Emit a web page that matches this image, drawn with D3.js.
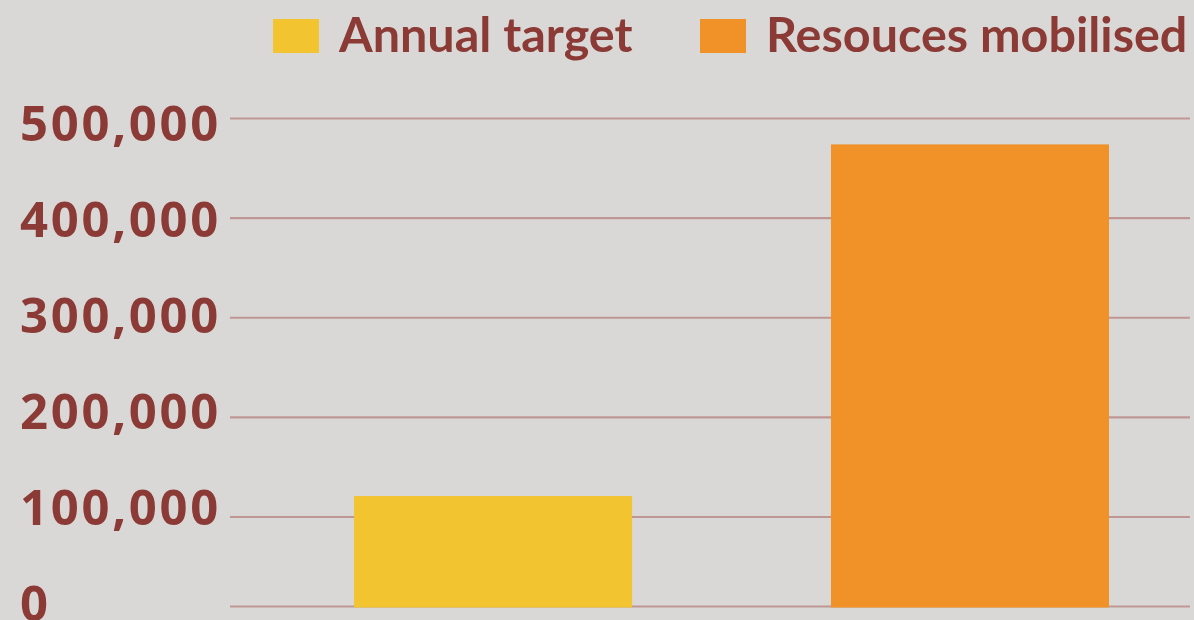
<!DOCTYPE html>
<html>
<head>
<meta charset="utf-8">
<script src="https://cdn.jsdelivr.net/npm/d3@7"></script>
<style>
  html, body { margin: 0; padding: 0; background: #dad8d6; }
  svg { display: block; }
  text { font-weight: 700; fill: #8b3a36; }
  .tick-label { font-family: "Open Sans", "Noto Sans", sans-serif; font-size: 49px; letter-spacing: 2.7px; }
  .legend-label { font-family: Lato, "Open Sans", sans-serif; font-size: 48.5px; }
</style>
</head>
<body>
<svg></svg>
<script>
const width = 1194;
const height = 620;

const categories = ['Annual target', 'Resouces mobilised'];
const values = [121000, 474000];
const colors = ['#f1c430', '#f19228'];
const tickValues = [0, 100000, 200000, 300000, 400000, 500000];
const tickLabels = ['0', '100,000', '200,000', '300,000', '400,000', '500,000'];

const svg = d3.select('svg')
    .attr('width', width)
    .attr('height', height);

svg.append('rect')
    .attr('width', width)
    .attr('height', height)
    .attr('fill', '#dad8d6');

// the baseline sits a little higher than a plain linear scale would put it
const yScale = d3.scaleLinear()
    .domain([0, 100000, 500000])
    .range([606.5, 517, 118.5]);

// tick labels are spaced a little tighter than the grid
const labelScale = d3.scaleLinear()
    .domain([0, 500000])
    .range([620.5, 140.5]);

const xScale = d3.scaleBand()
    .domain(categories)
    .range([230, 1190])
    .paddingInner(0.417)
    .paddingOuter(0.215)
    .align(0.605);

// gridlines
svg.append('g').selectAll('line').data(tickValues)
    .enter().append('line')
    .attr('x1', 230)
    .attr('x2', 1190)
    .attr('y1', d => yScale(d))
    .attr('y2', d => yScale(d))
    .attr('stroke', '#be9794')
    .attr('stroke-width', 2.2);

// tick labels
svg.append('g').selectAll('text').data(tickValues)
    .enter().append('text')
    .attr('class', 'tick-label')
    .attr('x', 20)
    .attr('y', d => labelScale(d))
    .text((d, i) => tickLabels[i]);

// bars
svg.append('g').selectAll('rect').data(values)
    .enter().append('rect')
    .attr('x', (d, i) => xScale(categories[i]))
    .attr('y', d => yScale(d))
    .attr('width', xScale.bandwidth())
    .attr('height', d => yScale(0) + 1 - yScale(d))
    .attr('fill', (d, i) => colors[i]);

// legend
const legendX = [273, 700];
const legend = svg.append('g').selectAll('g').data(categories)
    .enter().append('g')
    .attr('transform', (d, i) => `translate(${legendX[i]}, 19)`);

legend.append('rect')
    .attr('width', 46)
    .attr('height', 34)
    .attr('fill', (d, i) => colors[i]);

legend.append('text')
    .attr('class', 'legend-label')
    .attr('x', 66)
    .attr('y', 33)
    .text(d => d);
</script>
</body>
</html>
